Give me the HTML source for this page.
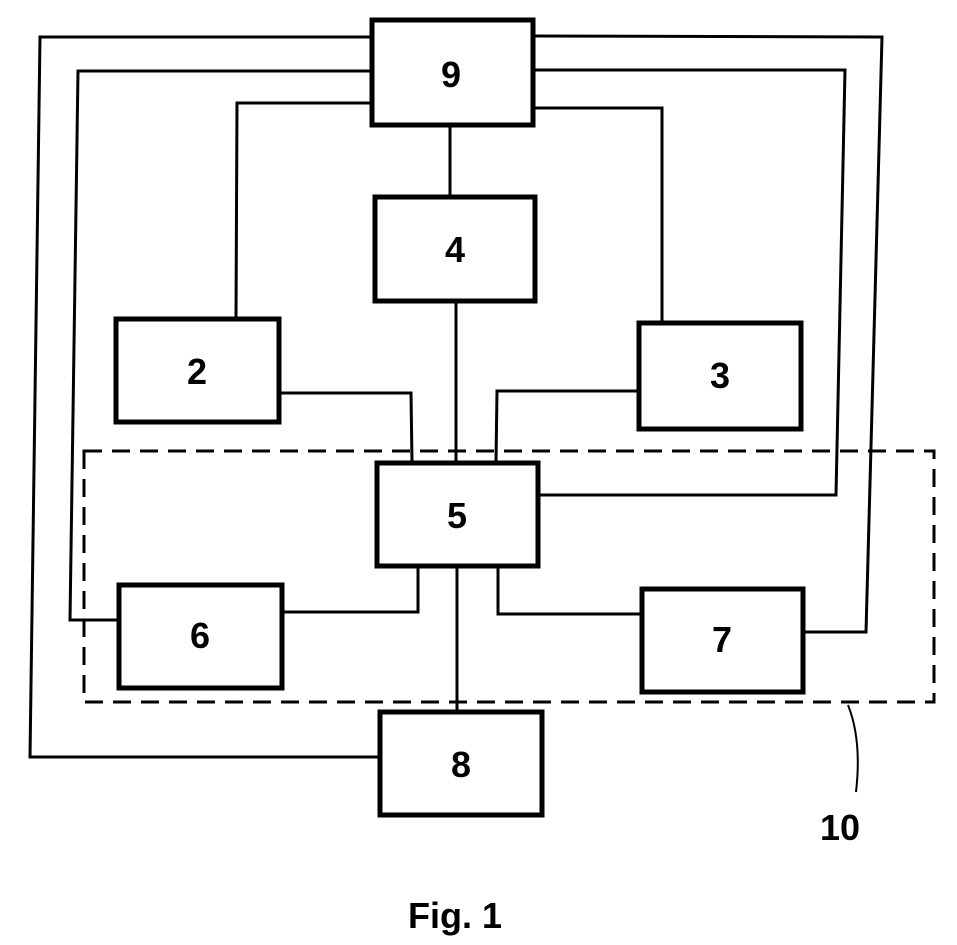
<!DOCTYPE html>
<html><head><style>body{margin:0;background:#fff}svg{display:block}</style></head><body>
<svg width="957" height="945" xmlns="http://www.w3.org/2000/svg">
<g fill="none" stroke="#000" stroke-width="3">
<polyline points="371,37 40,37 30,757 379,757"/>
<polyline points="371,71 78,71 70,620 118,620"/>
<polyline points="371,103 237,103 236,318"/>
<polyline points="534,36 882,37 866,632 804,632"/>
<polyline points="534,70 845,70 836,495 539,495"/>
<polyline points="534,108 662,108 662,322"/>
<line x1="450" y1="126" x2="450" y2="196"/>
<line x1="456" y1="302" x2="456" y2="462"/>
<polyline points="280,393 411,393 412,462"/>
<polyline points="638,391 497,391 496,462"/>
<polyline points="418,567 418,612 283,612"/>
<polyline points="498,567 498,614 641,614"/>
<line x1="457" y1="567" x2="457" y2="711"/>
<rect x="84" y="451" width="850" height="251" stroke-dasharray="18,10"/>
<path d="M848,705 Q862,740 856,792" stroke-width="2"/>
</g>
<g fill="#fff" stroke="#000" stroke-width="5">
<rect x="372" y="20" width="161" height="105"/>
<rect x="375" y="197" width="160" height="104"/>
<rect x="116" y="319" width="163" height="103"/>
<rect x="639" y="323" width="162" height="106"/>
<rect x="377" y="463" width="161" height="103"/>
<rect x="119" y="585" width="163" height="103"/>
<rect x="642" y="589" width="161" height="103"/>
<rect x="380" y="712" width="162" height="103"/>
</g>
<g font-family="Liberation Sans, sans-serif" font-weight="bold" font-size="36" text-anchor="middle">
<text x="451" y="87">9</text>
<text x="455" y="262">4</text>
<text x="197" y="384">2</text>
<text x="720" y="388">3</text>
<text x="457" y="528">5</text>
<text x="200" y="648">6</text>
<text x="722" y="652">7</text>
<text x="461" y="777">8</text>
<text x="840" y="840">10</text>
<text x="455" y="928">Fig. 1</text>
</g>
</svg>
</body></html>
